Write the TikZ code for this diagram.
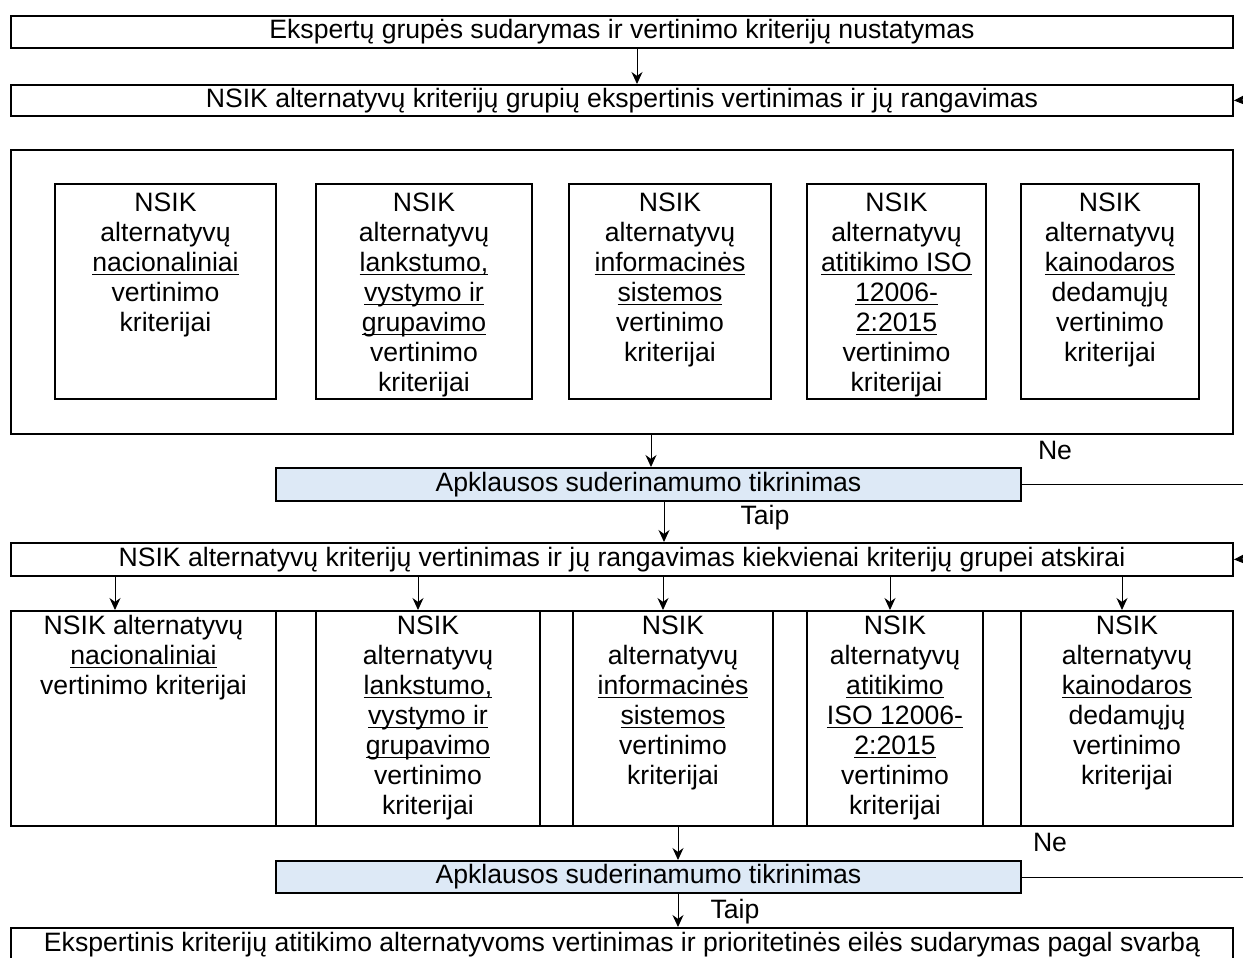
\documentclass[tikz,border=0pt]{standalone}
\usepackage{fontspec}
\setmainfont{Liberation Sans}
\usetikzlibrary{arrows.meta}

\definecolor{checkblue}{RGB}{221,233,246}

% underline that runs just under the baseline
\newcommand{\wordline}[1]{\leavevmode\setbox0\hbox{#1}\rlap{\rule[-1.9pt]{\wd0}{0.6pt}}\box0}
\newcommand{\topcell}[2]{\parbox[c][107.5pt][t]{#1}{\centering\rule{0pt}{13.5pt}#2}}
\newcommand{\lowcell}[2]{\parbox[c][107.5pt][t]{#1}{\centering\rule{0pt}{11.5pt}#2}}

\begin{document}
\begin{tikzpicture}[x=0.5pt,y=-0.5pt,
    every node/.style={font=\fontsize{13.3}{15}\selectfont},
    box/.style={draw,line width=1pt,inner sep=0pt,anchor=north west},
    check/.style={box,fill=checkblue},
    flow/.style={-{Stealth[length=6pt,width=5.5pt]},line width=0.5pt},
    link/.style={line width=0.5pt}]

  \useasboundingbox (0,0) rectangle (1243,958);

  % first stage
  \node[box,minimum width=611pt,minimum height=16pt] (ekspert) at (10,15)
    {Ekspertų grupės sudarymas ir vertinimo kriterijų nustatymas};
  \node[box,minimum width=611pt,minimum height=15.5pt] (grupiu) at (10,84)
    {NSIK alternatyvų kriterijų grupių ekspertinis vertinimas ir jų rangavimas};

  % criteria groups
  \node[box,minimum width=611pt,minimum height=142pt] (groups) at (10,149) {};
  \node[box] (a1) at (54,183)
    {\topcell{110.5pt}{NSIK\\ alternatyvų\\ \wordline{nacionaliniai}\\ vertinimo\\ kriterijai}};
  \node[box] (a2) at (315,183)
    {\topcell{108pt}{NSIK\\ alternatyvų\\ \wordline{lankstumo,}\\ \wordline{vystymo ir}\\ \wordline{grupavimo}\\ vertinimo\\ kriterijai}};
  \node[box] (a3) at (568,183)
    {\topcell{101pt}{NSIK\\ alternatyvų\\ \wordline{informacinės}\\ \wordline{sistemos}\\ vertinimo\\ kriterijai}};
  \node[box] (a4) at (806,183)
    {\topcell{89.5pt}{NSIK\\ alternatyvų\\ \wordline{atitikimo ISO}\\ \wordline{12006-}\\ \wordline{2:2015}\\ vertinimo\\ kriterijai}};
  \node[box] (a5) at (1020,183)
    {\topcell{89pt}{NSIK\\ alternatyvų\\ \wordline{kainodaros}\\ dedamųjų\\ vertinimo\\ kriterijai}};

  \node[check,minimum width=372.5pt,minimum height=16.5pt] (check1) at (275,467)
    {Apklausos suderinamumo tikrinimas};
  \node[box,minimum width=611pt,minimum height=16.5pt] (kiek) at (10,542)
    {NSIK alternatyvų kriterijų vertinimas ir jų rangavimas kiekvienai kriterijų grupei atskirai};

  % criteria within each group
  \node[box,minimum width=611pt,minimum height=107.5pt] (row) at (10,610) {};
  \node[box] (b1) at (10,610)
    {\lowcell{132.5pt}{NSIK alternatyvų\\ \wordline{nacionaliniai}\\ vertinimo kriterijai}};
  \node[box] (b2) at (315,610)
    {\lowcell{112pt}{NSIK\\ alternatyvų\\ \wordline{lankstumo,}\\ \wordline{vystymo ir}\\ \wordline{grupavimo}\\ vertinimo\\ kriterijai}};
  \node[box] (b3) at (572,610)
    {\lowcell{100pt}{NSIK\\ alternatyvų\\ \wordline{informacinės}\\ \wordline{sistemos}\\ vertinimo\\ kriterijai}};
  \node[box] (b4) at (806,610)
    {\lowcell{88pt}{NSIK\\ alternatyvų\\ \wordline{atitikimo}\\ \wordline{ISO 12006-}\\ \wordline{2:2015}\\ vertinimo\\ kriterijai}};
  \node[box] (b5) at (1020,610)
    {\lowcell{106pt}{NSIK\\ alternatyvų\\ \wordline{kainodaros}\\ dedamųjų\\ vertinimo\\ kriterijai}};

  \node[check,minimum width=372.5pt,minimum height=16pt] (check2) at (275,860)
    {Apklausos suderinamumo tikrinimas};
  \node[box,minimum width=611pt,minimum height=16.5pt] (final) at (10,927)
    {Ekspertinis kriterijų atitikimo alternatyvoms vertinimas ir prioritetinės eilės sudarymas pagal svarbą};

  % labels
  \node (ne1) at (1055,450) {Ne};
  \node (taip1) at (765,518) {Taip};
  \node (ne2) at (1050,842) {Ne};
  \node (taip2) at (735,912) {Taip};

  % free ends at the right edge
  \coordinate (edge) at (1243,0);
  \coordinate (back1) at (1243,100);
  \coordinate (back2) at (1243,559);

  % arrows
  \draw[flow] (ekspert.south -| 637,0) -- (grupiu.north -| 637,0);
  \draw[flow] (groups.south -| 651,0) -- (check1.north -| 651,0);
  \draw[flow] (check1.south -| 664,0) -- (kiek.north -| 664,0);
  \draw[flow] (kiek.south -| 115,0) -- (b1.north -| 115,0);
  \draw[flow] (kiek.south -| 418,0) -- (b2.north -| 418,0);
  \draw[flow] (kiek.south -| 663,0) -- (b3.north -| 663,0);
  \draw[flow] (kiek.south -| 890,0) -- (b4.north -| 890,0);
  \draw[flow] (kiek.south -| 1122,0) -- (b5.north -| 1122,0);
  \draw[flow] (row.south -| 678,0) -- (check2.north -| 678,0);
  \draw[flow] (check2.south -| 678,0) -- (final.north -| 678,0);

  \draw[link] (check1.east) -- (check1.east -| edge);
  \draw[link] (check2.east) -- (check2.east -| edge);
  \draw[flow] (back1) -- (grupiu.east);
  \draw[flow] (back2) -- (kiek.east);

\end{tikzpicture}
\end{document}
